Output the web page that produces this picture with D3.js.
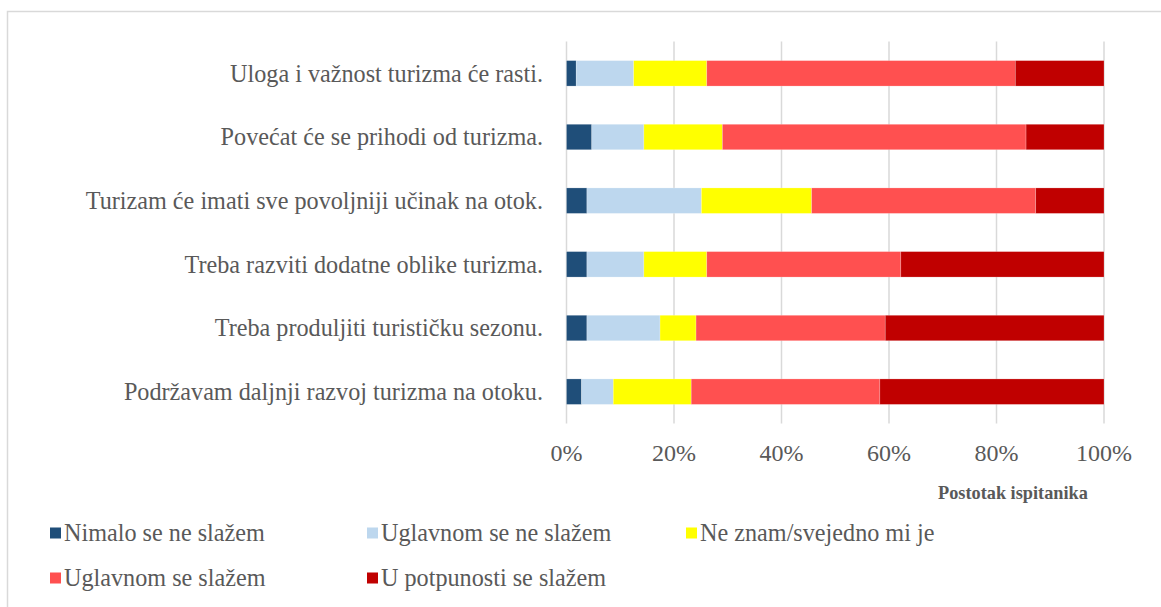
<!DOCTYPE html>
<html lang="hr">
<head>
<meta charset="UTF-8">
<script src="https://cdn.jsdelivr.net/npm/d3@7"></script>
<title>Stavovi o turizmu</title>
<style>
  body { margin: 0; background: #fff; }
  text { font-family: "Liberation Serif", "Times New Roman", serif; fill: #595959; }
</style>
</head>
<body>
<script>
// kategorije odozgo prema dolje
var categories = [
  "Uloga i važnost turizma će rasti.",
  "Povećat će se prihodi od turizma.",
  "Turizam će imati sve povoljniji učinak na otok.",
  "Treba razviti dodatne oblike turizma.",
  "Treba produljiti turističku sezonu.",
  "Podržavam daljnji razvoj turizma na otoku."
];
var seriesNames = ["Nimalo se ne slažem", "Uglavnom se ne slažem", "Ne znam/svejedno mi je", "Uglavnom se slažem", "U potpunosti se slažem"];
var colors = ["#1f4e79", "#bdd7ee", "#ffff00", "#ff5050", "#c00000"];

// postotci po seriji (procijenjeno s grafa)
var nimalo     = [1.8, 4.7, 3.8, 3.8, 3.8, 2.8];
var uglavnomNe = [10.7, 9.7, 21.3, 10.6, 13.6, 5.9];
var neZnam     = [13.6, 14.6, 20.5, 11.7, 6.7, 14.5];
var uglavnomDa = [57.4, 56.5, 41.7, 36.1, 35.2, 35.1];
var potpuno    = [16.5, 14.5, 12.7, 37.8, 40.7, 41.7];
var ticks = [0, 0.2, 0.4, 0.6, 0.8, 1];

var width = 1161, height = 607;
var svg = d3.select("body").append("svg").attr("width", width).attr("height", height);

// okvir
svg.append("rect").attr("x", 7.5).attr("y", 11.5).attr("width", 1200).attr("height", 700)
  .attr("fill", "none").attr("stroke", "#d9d9d9").attr("stroke-width", 1.5);

var rows = categories.map(function(c, i) {
  return { cat: c, s0: nimalo[i], s1: uglavnomNe[i], s2: neZnam[i], s3: uglavnomDa[i], s4: potpuno[i] };
});
var keys = ["s0", "s1", "s2", "s3", "s4"];
var stack = d3.stack().keys(keys).offset(d3.stackOffsetExpand);
var layers = stack(rows);

var x = d3.scaleLinear().domain([0, 1]).range([566.5, 1104]);
var y = d3.scaleBand().domain(categories).range([41.5, 423.5]).paddingInner(0.6).paddingOuter(0.3);

// mreža
svg.append("g").selectAll("line").data(ticks).enter().append("line")
  .attr("x1", function(d) { return x(d); }).attr("x2", function(d) { return x(d); })
  .attr("y1", 41.5).attr("y2", 423.5)
  .attr("stroke", "#d9d9d9").attr("stroke-width", 1.5);

svg.append("g").selectAll("g").data(layers).enter().append("g")
  .attr("fill", function(d, i) { return colors[i]; })
  .selectAll("rect").data(function(d) { return d; }).enter().append("rect")
  .attr("x", function(d) { return x(d[0]); })
  .attr("width", function(d) { return x(d[1]) - x(d[0]); })
  .attr("y", function(d) { return y(d.data.cat); })
  .attr("height", y.bandwidth())
  .attr("stroke", "#ffffff").attr("stroke-opacity", 0.35).attr("stroke-width", 0.6);

// oznake kategorija
svg.append("g").selectAll("text").data(categories).enter().append("text")
  .attr("x", 543).attr("y", function(d) { return y(d) + y.bandwidth() / 2; })
  .attr("dy", "0.35em").attr("text-anchor", "end").style("font-size", "24.2px")
  .text(function(d) { return d; });

// oznake osi x
svg.append("g").selectAll("text").data(ticks).enter().append("text")
  .attr("x", function(d) { return x(d); }).attr("y", 453).attr("dy", "0.35em")
  .attr("text-anchor", "middle").style("font-size", "24px")
  .text(d3.format(".0%"));

svg.append("text").attr("x", 938).attr("y", 493).attr("dy", "0.35em")
  .attr("text-anchor", "start").style("font-size", "18.3px").style("font-weight", "bold")
  .text("Postotak ispitanika");

// legenda
var legX = [50, 367, 686], legY = [533, 578];
var leg = svg.append("g").selectAll("g").data(seriesNames).enter().append("g")
  .attr("transform", function(d, i) { return "translate(" + legX[i % 3] + "," + legY[Math.floor(i / 3)] + ")"; });
leg.append("rect").attr("x", 0).attr("y", -5.5).attr("width", 11).attr("height", 11)
  .attr("fill", function(d, i) { return colors[i]; });
leg.append("text").attr("x", 14).attr("dy", "0.35em").style("font-size", "24.2px")
  .text(function(d) { return d; });
</script>
</body>
</html>
